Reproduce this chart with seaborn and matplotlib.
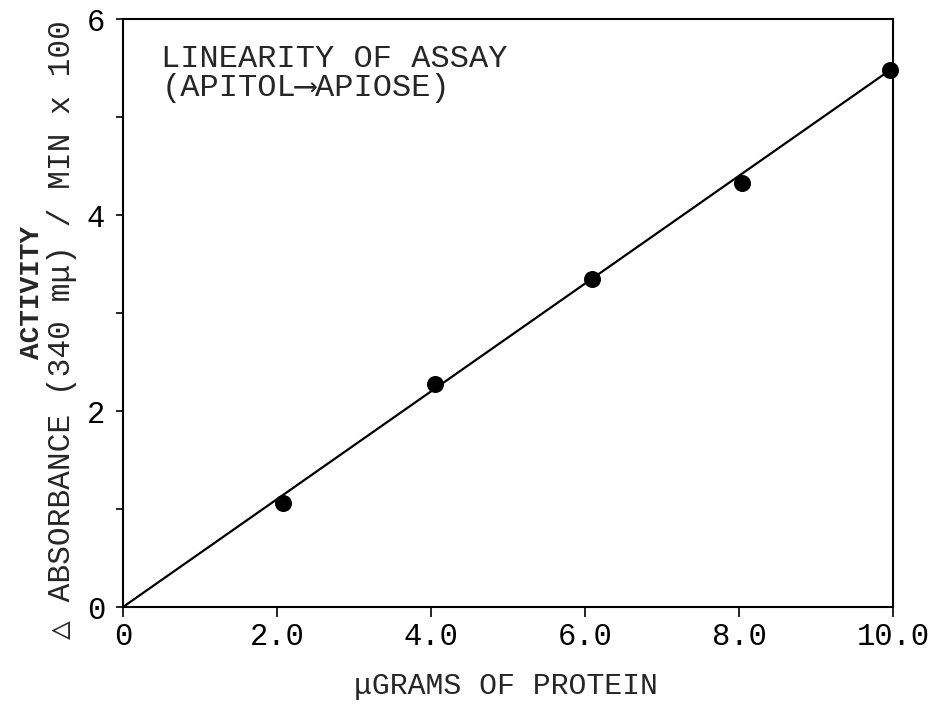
import matplotlib
matplotlib.use("Agg")
import matplotlib.pyplot as plt
import seaborn as sns
import pandas as pd

# Measured activity vs. amount of protein
protein_ug = [2.08, 4.05, 6.09, 8.04, 9.96]
activity = [1.06, 2.28, 3.35, 4.33, 5.48]

# Fitted line through the origin
fit_x = [0.0, 10.0]
fit_y = [0.0, 5.5]

x_ticks = [0, 2, 4, 6, 8, 10]
x_tick_labels = ["0", "2.0", "4.0", "6.0", "8.0", "10.0"]
y_ticks = [0, 1, 2, 3, 4, 5, 6]
y_tick_labels = ["0", "", "2", "", "4", "", "6"]

sns.set_style("ticks")
plt.rcParams["font.family"] = ["Liberation Mono", "DejaVu Sans Mono", "DejaVu Sans"]
plt.rcParams["axes.linewidth"] = 1.5

fig = plt.figure(figsize=(9.43, 7.17), dpi=100)
ax = fig.add_axes([0.1304, 0.1534, 0.8166, 0.8201])

points = pd.DataFrame({"protein": protein_ug, "activity": activity})
fit = pd.DataFrame({"protein": fit_x, "activity": fit_y})

sns.lineplot(data=fit, x="protein", y="activity", ax=ax, color="black",
             linewidth=1.6)
sns.scatterplot(data=points, x="protein", y="activity", ax=ax, color="black",
                s=150, edgecolor="black", linewidth=0, zorder=3, clip_on=False)

ax.set_xlim(0, 10)
ax.set_ylim(0, 6)
ax.set_xticks(x_ticks)
ax.set_xticklabels(x_tick_labels, fontsize=22)
ax.set_yticks(y_ticks)
ax.set_yticklabels(y_tick_labels, fontsize=22)
ax.tick_params(axis="x", length=7, width=1.2, pad=4, colors="black")
ax.tick_params(axis="y", length=5, width=1.2, pad=8, colors="black")
for side in ["top", "right", "left", "bottom"]:
    ax.spines[side].set_visible(True)
    ax.spines[side].set_color("black")

ax.set_xlabel("")
ax.set_ylabel("")

# Axis titles
fig.text(0.537, 0.043, "\u03bcGRAMS OF PROTEIN", ha="center", va="center",
         fontsize=21.5)
fig.text(0.034, 0.592, "ACTIVITY", rotation=90, ha="center", va="center",
         fontsize=20, fontweight="bold")
fig.text(0.066, 0.54, "\u25b3 ABSORBANCE (340 m\u03bc) / MIN x 100",
         rotation=90, ha="center", va="center", fontsize=22.5)

# Plot caption
ax.text(0.05, 0.958, "LINEARITY OF ASSAY\n(APITOL\u27f6APIOSE)",
        transform=ax.transAxes, ha="left", va="top", fontsize=23,
        linespacing=0.95)

fig.savefig("out.png", dpi=100)
